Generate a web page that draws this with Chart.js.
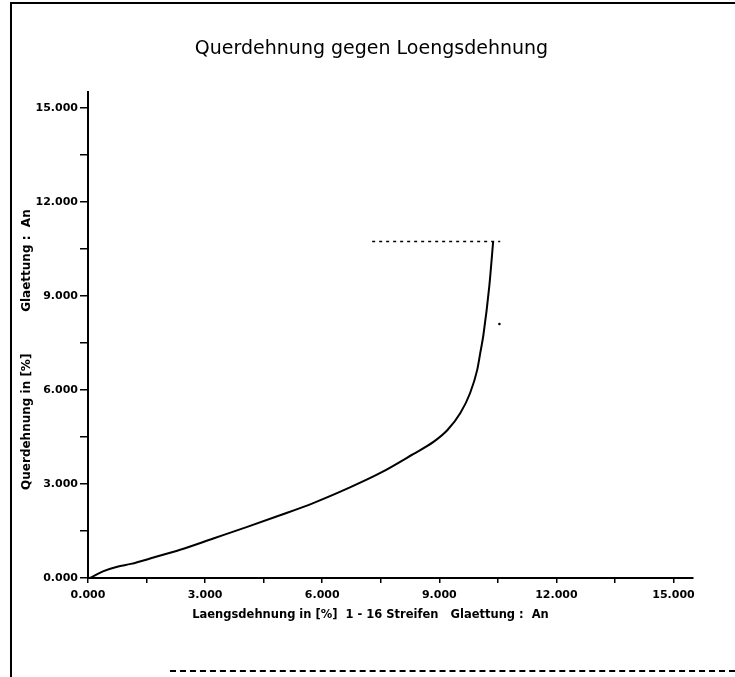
<!DOCTYPE html>
<html lang="de">
  <head>
    <meta charset="UTF-8" />
    <title>Querdehnung gegen Loengsdehnung</title>
    <style>
      body,
      html {
        margin: 0;
        width: 735px;
        height: 677px;
        background: #fff;
        overflow: hidden;
      }
      .page {
        position: relative;
        width: 735px;
        height: 677px;
      }
      .rahmen {
        position: absolute;
        left: 10px;
        top: 2px;
        width: 730px;
        height: 690px;
        border-left: 2px solid #000;
        border-top: 2px solid #000;
      }
      .unten {
        position: absolute;
        left: 170px;
        top: 670px;
        width: 565px;
        border-top: 2px dashed #000;
      }
      .titel {
        position: absolute;
        top: 35px;
        left: 0;
        width: 743px;
        text-align: center;
        font: 19px "DejaVu Sans", sans-serif;
        line-height: 24px;
        color: #000;
      }
      canvas {
        position: absolute;
        left: 0;
        top: 0;
      }
    </style>
  </head>
  <body>
    <div class="page">
      <canvas id="myChart" width="735" height="677"></canvas>
      <div class="rahmen"></div>
      <div class="unten"></div>
      <div class="titel">Querdehnung gegen Loengsdehnung</div>
    </div>

    <script src="https://cdn.jsdelivr.net/npm/chart.js"></script>

    <script>
      // Messkurve: Laengsdehnung (x) und Querdehnung (y) in %
      const laengs = [0.05, 0.4, 0.75, 1.1, 1.7, 2.36, 3.21, 4.08, 4.92, 5.77, 6.64, 7.49, 8.33, 8.85, 9.21, 9.54, 9.79, 9.97, 10.05, 10.13, 10.28, 10.38];
      const quer = [0.0, 0.22, 0.36, 0.45, 0.66, 0.9, 1.26, 1.63, 2.0, 2.39, 2.85, 3.35, 3.95, 4.34, 4.72, 5.26, 5.9, 6.63, 7.18, 7.75, 9.29, 10.73];

      // waagerechte Linie am Kurvenende
      const endeX = [7.28, 10.56];
      const endeY = [10.73, 10.73];

      // einzelner Punkt rechts neben der Kurve
      const punktX = [10.54];
      const punktY = [8.1];

      const achseMax = 15.5;
      const schritt = 1.5;

      const toPoints = (xs, ys) => xs.map((x, i) => ({ x: x, y: ys[i] }));

      // nur jede zweite Marke beschriften (0, 3, 6 ...)
      function tickLabel(v) {
        const k = v / 3;
        return Math.abs(k - Math.round(k)) < 1e-6 ? v.toFixed(3) : "";
      }

      const familie = "'DejaVu Sans', sans-serif";
      const schrift = { family: familie, size: 11, weight: "bold" };

      const ctx = document.getElementById("myChart").getContext("2d");

      const data = {
        datasets: [
          {
            label: "Querdehnung",
            data: toPoints(laengs, quer),
            borderColor: "#000",
            borderWidth: 2,
            pointRadius: 0,
            fill: false,
            cubicInterpolationMode: "monotone",
          },
          {
            label: "Ende",
            data: toPoints(endeX, endeY),
            borderColor: "#000",
            borderWidth: 1.5,
            borderDash: [3, 4],
            pointRadius: 0,
            fill: false,
          },
          {
            label: "Punkt",
            data: toPoints(punktX, punktY),
            showLine: false,
            pointRadius: 1.3,
            pointBackgroundColor: "#000",
            pointBorderWidth: 0,
          },
        ],
      };

      const config = {
        type: "line",
        data: data,
        options: {
          responsive: false,
          animation: false,
          layout: {
            padding: { left: 20, right: 42, top: 92, bottom: 55 },
          },
          plugins: {
            legend: { display: false },
            title: { display: false },
            tooltip: { enabled: false },
          },
          scales: {
            x: {
              type: "linear",
              min: 0,
              max: achseMax,
              afterFit: (scale) => {
                scale.height = 44;
              },
              border: { display: true, color: "#000", width: 2 },
              grid: {
                drawOnChartArea: false,
                drawTicks: true,
                tickLength: 5,
                color: "#000",
                lineWidth: 1.5,
              },
              ticks: {
                stepSize: schritt,
                includeBounds: false,
                autoSkip: false,
                maxRotation: 0,
                padding: 6,
                color: "#000",
                font: schrift,
                callback: tickLabel,
              },
              title: {
                display: true,
                text: "Laengsdehnung in [%]  1 - 16 Streifen   Glaettung :  An          ",
                color: "#000",
                font: { family: familie, size: 11.5, weight: "bold" },
                padding: 0,
              },
            },
            y: {
              type: "linear",
              min: 0,
              max: achseMax,
              afterFit: (scale) => {
                scale.width = 68;
              },
              border: { display: true, color: "#000", width: 2 },
              grid: {
                drawOnChartArea: false,
                drawTicks: true,
                tickLength: 8,
                color: "#000",
                lineWidth: 1.5,
              },
              ticks: {
                stepSize: schritt,
                includeBounds: false,
                autoSkip: false,
                padding: 2,
                color: "#000",
                font: schrift,
                callback: tickLabel,
              },
              title: {
                display: true,
                text: "Querdehnung in [%]          Glaettung :  An       ",
                color: "#000",
                font: { family: familie, size: 12, weight: "bold" },
                padding: 0,
              },
            },
          },
        },
      };

      const myChart = new Chart(ctx, config);
    </script>
  </body>
</html>
